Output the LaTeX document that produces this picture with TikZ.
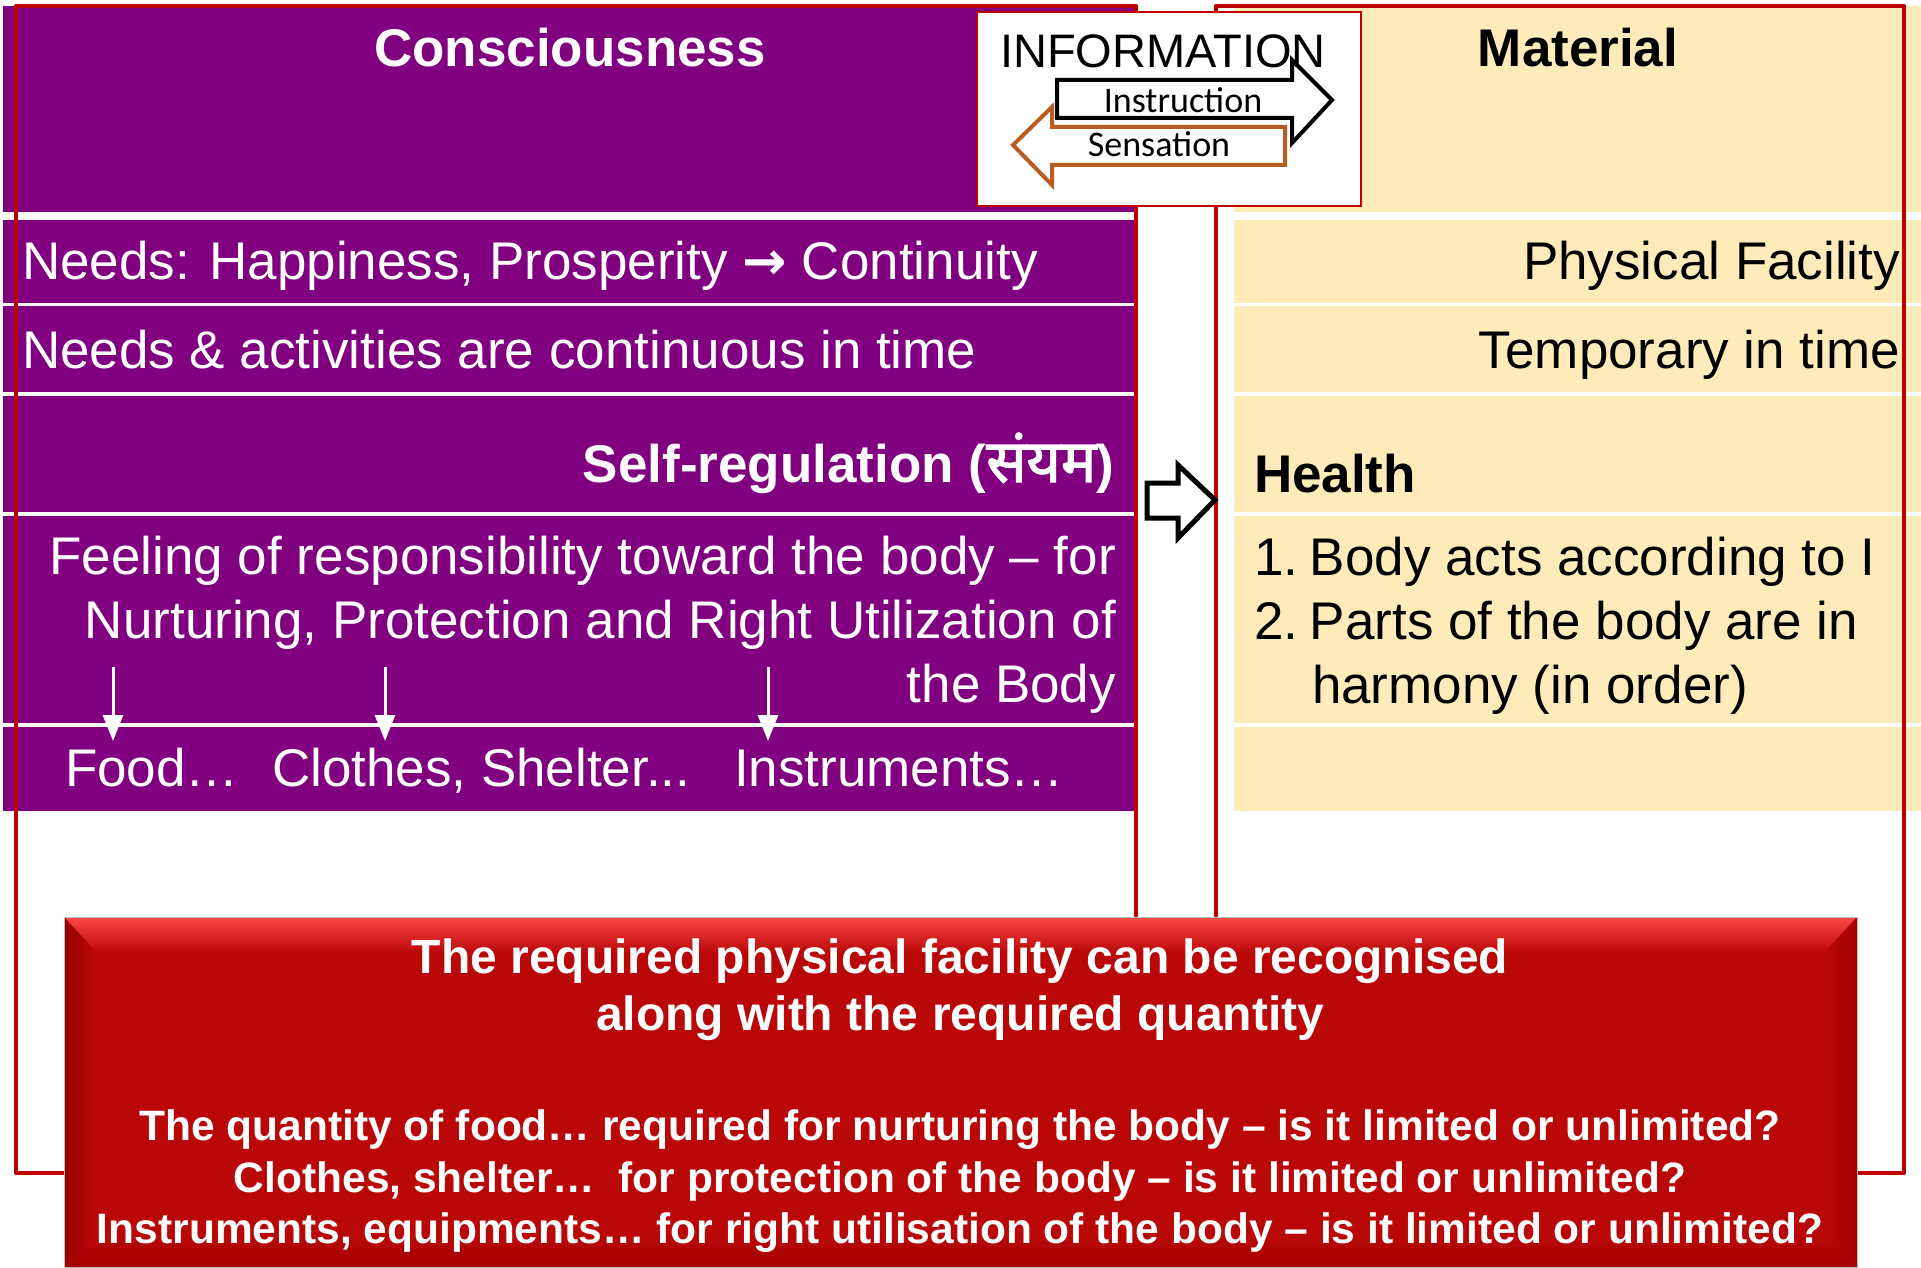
\documentclass[tikz,border=0pt]{standalone}
\usepackage{fontspec}
\setmainfont{Liberation Sans}
\newfontfamily\calib{Carlito}
\newfontfamily\deva[Script=Devanagari,Scale=1.12,BoldFont={Noto Sans},BoldFeatures={FakeBold=2}]{Noto Sans}
\newfontfamily\djv{DejaVu Sans}
\usetikzlibrary{arrows.meta}
\definecolor{purp}{RGB}{128,0,128}
\definecolor{cream}{RGB}{253,236,186}
\definecolor{redline}{RGB}{192,0,0}
\definecolor{redbox}{RGB}{186,8,8}
\definecolor{boxtop}{RGB}{255,72,72}
\definecolor{boxleft}{RGB}{150,0,0}
\definecolor{boxright}{RGB}{165,0,0}
\definecolor{sensc}{RGB}{184,92,32}
\begin{document}
\begin{tikzpicture}[x=1pt,y=-1pt,
  every node/.style={inner sep=0pt,outer sep=0pt},
  big/.style={font=\fontsize{53}{64}\selectfont},
  bigb/.style={font=\fontsize{53}{64}\selectfont\bfseries},
  wt/.style={text=white},
  bk/.style={text=black},
  boxa/.style={text=white,font=\fontsize{48}{56}\selectfont\bfseries,anchor=base},
  boxb/.style={text=white,font=\fontsize{42.5}{50}\selectfont\bfseries,anchor=base},
  outline/.style={draw=redline,line width=4pt,line join=round},
  downarrow/.style={draw=white,fill=white,line width=3pt,-{Triangle[length=26pt,width=20pt]}},
  infoarrow/.style={line width=4pt,line join=miter,fill=white}
]
\useasboundingbox (0,0) rectangle (1921,1268);
% left (consciousness) panel
\fill[purp] (3,6) rectangle (1134,212);
\fill[purp] (3,220) rectangle (1134,303);
\fill[purp] (3,306) rectangle (1134,392);
\fill[purp] (3,396) rectangle (1134,512);
\fill[purp] (3,516) rectangle (1134,723);
\fill[purp] (3,727) rectangle (1134,811);
% right (material) panel
\fill[cream] (1234,6) rectangle (1921,212);
\fill[cream] (1234,220) rectangle (1921,303);
\fill[cream] (1234,306) rectangle (1921,392);
\fill[cream] (1234,396) rectangle (1921,512);
\fill[cream] (1234,516) rectangle (1921,723);
\fill[cream] (1234,727) rectangle (1921,811);
% red outlines
\draw[outline] (16,6) rectangle (1136,1173);
\draw[outline] (1216,6) rectangle (1904,1173);
% headings
\node[bigb,wt,anchor=base] (cons) at (570,67) {Consciousness};
\node[bigb,bk,anchor=base] (mat) at (1578,67) {Material};
% info box
\node[draw=redline,line width=2pt,fill=white,anchor=north west,minimum width=384pt,minimum height=194pt] (info) at (977,12) {};
\draw[infoarrow,draw=black] (1057,80) -- (1292,80) -- (1292,60) -- (1332,100) -- (1292,143) -- (1292,118) -- (1057,118) -- cycle;
\draw[infoarrow,draw=sensc] (1285,127) -- (1052,127) -- (1052,107) -- (1013,145) -- (1052,185) -- (1052,165) -- (1285,165) -- cycle;
\node[anchor=base,font=\fontsize{47}{56}\selectfont] (infot) at (1163,68) {INFORMATION};
\node[anchor=base,font=\calib\fontsize{36}{40}\selectfont] (instr) at (1183,113) {Instruction};
\node[anchor=base,font=\calib\fontsize{36}{40}\selectfont] (sens) at (1159,157) {Sensation};
% left rows
\node[big,wt,anchor=base west] (needs) at (22,279) {Needs: Happiness, Prosperity {\djv\bfseries →} Continuity};
\node[big,wt,anchor=base west] (cont) at (22,368) {Needs \& activities are continuous in time};
\node[bigb,wt,anchor=base east] (selfreg) at (1114,482) {Self-regulation ({\deva\bfseries संयम})};
\node[big,wt,anchor=base east] (feel1) at (1116,574) {Feeling of responsibility toward the body – for};
\node[big,wt,anchor=base east] (feel2) at (1116,638) {Nurturing, Protection and Right Utilization of};
\node[big,wt,anchor=base east] (feel3) at (1116,702) {the Body};
\node[big,wt,anchor=base west] (food) at (65,786) {Food…};
\node[big,wt,anchor=base west] (cloth) at (272,786) {Clothes, Shelter...};
\node[big,wt,anchor=base west] (instrm) at (734,786) {Instruments…};
\coordinate (a1s) at (113,667); \coordinate (a1e) at (113,741);
\coordinate (a2s) at (385,667); \coordinate (a2e) at (385,741);
\coordinate (a3s) at (768,667); \coordinate (a3e) at (768,741);
\draw[downarrow] (a1s) -- (a1e);
\draw[downarrow] (a2s) -- (a2e);
\draw[downarrow] (a3s) -- (a3e);
% right rows
\node[big,bk,anchor=base east] (phys) at (1900,279) {Physical Facility};
\node[big,bk,anchor=base east] (temp) at (1900,368) {Temporary in time};
\node[bigb,bk,anchor=base west] (health) at (1254,492) {Health};
\node[big,bk,anchor=base west] (h1) at (1254,575) {1.\hspace{0.22em}Body acts according to I};
\node[big,bk,anchor=base west] (h2) at (1254,639) {2.\hspace{0.22em}Parts of the body are in};
\node[big,bk,anchor=base west] (h3) at (1312,703) {harmony (in order)};
% hollow arrow between panels
\draw[line width=5pt,fill=white,line join=miter] (1147,483) -- (1178,483) -- (1178,465) -- (1215,500) -- (1178,538) -- (1178,518) -- (1147,518) -- cycle;
% bottom red box
\fill[redbox] (64,917) rectangle (1857,1267);
\shade[top color=boxtop,bottom color=redbox] (64,917) -- (1857,917) -- (1825,952) -- (96,952) -- cycle;
\shade[left color=boxleft,right color=redbox] (64,917) -- (96,952) -- (96,1235) -- (64,1267) -- cycle;
\shade[left color=redbox,right color=boxright] (1857,917) -- (1825,952) -- (1825,1235) -- (1857,1267) -- cycle;
\shade[top color=redbox,bottom color=boxright] (96,1235) -- (1825,1235) -- (1857,1267) -- (64,1267) -- cycle;
\draw[black!25,line width=1pt] (64,917) rectangle (1857,1267);
\node[boxa] (req1) at (960,973) {The required physical facility can be recognised};
\node[boxa] (req2) at (960,1030) {along with the required quantity};
\node[boxb] (q1) at (960,1140) {The quantity of food… required for nurturing the body – is it limited or unlimited?};
\node[boxb] (q2) at (960,1192) {Clothes, shelter…\ \ for protection of the body – is it limited or unlimited?};
\node[boxb] (q3) at (960,1243) {Instruments, equipments… for right utilisation of the body – is it limited or unlimited?};
\end{tikzpicture}
\end{document}
